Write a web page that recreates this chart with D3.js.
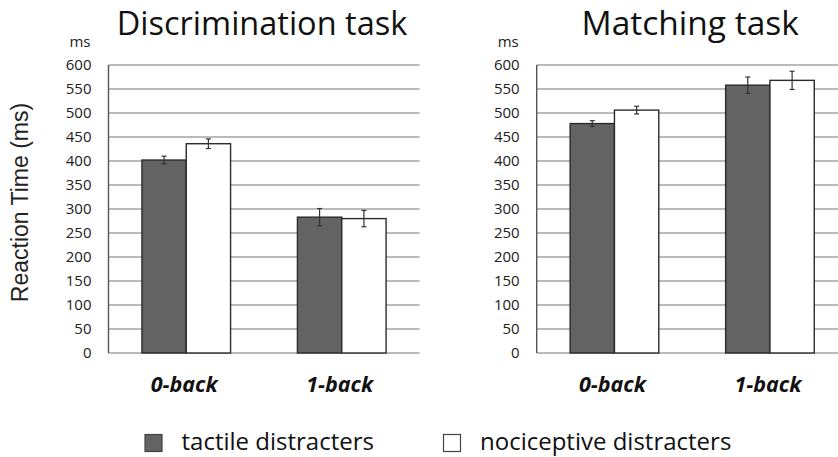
<!DOCTYPE html>
<html>
<head>
<meta charset="utf-8">
<script src="https://cdn.jsdelivr.net/npm/d3@7"></script>
<style>
  body { margin: 0; background: #fff; }
  svg { display: block; }
</style>
</head>
<body>
<div id="chart"></div>
<script>
const categories = ["0-back", "1-back"]
const seriesNames = ["tactile distracters", "nociceptive distracters"]
const seriesColors = ["#636363", "#ffffff"]

// mean reaction times (ms), per category
const discrimTactile = [402, 283]
const discrimNocicep = [436, 280]
const matchTactile = [478, 558]
const matchNocicep = [506, 568]

// error bars (+/- ms)
const discrimTactileErr = [8, 18]
const discrimNocicepErr = [10, 17]
const matchTactileErr = [6, 17]
const matchNocicepErr = [8, 19]

const yTicks = [0, 50, 100, 150, 200, 250, 300, 350, 400, 450, 500, 550, 600]

const panels = [
  {title: "Discrimination task", left: 108.5, titleSize: 32.5,
   values: [discrimTactile, discrimNocicep], errs: [discrimTactileErr, discrimNocicepErr]},
  {title: "Matching task", left: 536.7, titleSize: 33.5,
   values: [matchTactile, matchNocicep], errs: [matchTactileErr, matchNocicepErr]}
]

const W = 838, H = 457
const plotTop = 65, plotBottom = 353, plotW = 311

const svg = d3.select("#chart").append("svg")
  .attr("width", W)
  .attr("height", H)

const y = d3.scaleLinear().domain([0, 600]).range([plotBottom, plotTop])

svg.append("text")
  .attr("transform", `translate(28,202.5) rotate(-90)`)
  .attr("text-anchor", "middle")
  .style("font-family", "Liberation Sans, Arial, sans-serif")
  .style("font-size", "23px")
  .style("fill", "#222")
  .text("Reaction Time (ms)")

panels.forEach(p => {
  const g = svg.append("g").attr("transform", `translate(${p.left},0)`)

  const x0 = d3.scaleBand().domain(categories).range([0, plotW])
    .paddingInner(0.43).paddingOuter(0.215)
  const x1 = d3.scaleBand().domain(seriesNames).range([0, x0.bandwidth()])

  // gridlines
  g.append("g")
    .selectAll("line")
    .data(yTicks)
    .join("line")
      .attr("x1", 0)
      .attr("x2", plotW)
      .attr("y1", d => y(d))
      .attr("y2", d => y(d))
      .attr("stroke", "#a3a3a3")
      .attr("stroke-width", 1.4)

  // y axis labels
  const yAxis = g.append("g")
    .call(d3.axisLeft(y).tickValues(yTicks).tickSize(0).tickPadding(17))
  yAxis.select(".domain").remove()
  yAxis.selectAll("text")
    .style("font-family", "Open Sans, sans-serif")
    .style("font-size", "15px")
    .style("fill", "#222")

  g.append("text")
    .attr("x", -18)
    .attr("y", 47)
    .attr("text-anchor", "end")
    .style("font-family", "Open Sans, sans-serif")
    .style("font-size", "15px")
    .style("fill", "#222")
    .text("ms")

  // bars
  const rows = []
  categories.forEach((c, ci) => {
    seriesNames.forEach((s, si) => {
      rows.push({cat: c, ser: s, si: si, v: p.values[si][ci], e: p.errs[si][ci]})
    })
  })

  g.append("g")
    .selectAll("rect")
    .data(rows)
    .join("rect")
      .attr("x", d => x0(d.cat) + x1(d.ser))
      .attr("y", d => y(d.v))
      .attr("width", x1.bandwidth())
      .attr("height", d => y(0) - y(d.v))
      .attr("fill", d => seriesColors[d.si])
      .attr("stroke", "#2b2b2b")
      .attr("stroke-width", 1.4)

  // error bars
  const eb = g.append("g").attr("stroke", "#333").attr("stroke-width", 1.2)
  rows.forEach(d => {
    const cx = x0(d.cat) + x1(d.ser) + x1.bandwidth() / 2
    eb.append("line").attr("x1", cx).attr("x2", cx).attr("y1", y(d.v + d.e)).attr("y2", y(d.v - d.e))
    eb.append("line").attr("x1", cx - 2.5).attr("x2", cx + 2.5).attr("y1", y(d.v + d.e)).attr("y2", y(d.v + d.e))
    eb.append("line").attr("x1", cx - 2.5).attr("x2", cx + 2.5).attr("y1", y(d.v - d.e)).attr("y2", y(d.v - d.e))
  })

  // y axis line
  g.append("line")
    .attr("x1", 0).attr("x2", 0)
    .attr("y1", y(600)).attr("y2", y(0))
    .attr("stroke", "#555")
    .attr("stroke-width", 1.4)

  // category labels
  g.append("g")
    .selectAll("text")
    .data(categories)
    .join("text")
      .attr("x", d => x0(d) + x0.bandwidth() / 2 - 2)
      .attr("y", 392)
      .attr("text-anchor", "middle")
      .style("font-family", "Open Sans, sans-serif")
      .style("font-size", "21.5px")
      .style("font-weight", "bold")
      .style("font-style", "italic")
      .style("fill", "#111")
      .text(d => d)

  // title
  g.append("text")
    .attr("x", plotW / 2 - 2)
    .attr("y", 35)
    .attr("text-anchor", "middle")
    .style("font-family", "Open Sans, sans-serif")
    .style("font-size", p.titleSize + "px")
    .style("fill", "#111")
    .text(p.title)
})

// legend
const legendX = [145, 443.5]
const leg = svg.append("g")
seriesNames.forEach((s, i) => {
  leg.append("rect")
    .attr("x", legendX[i])
    .attr("y", 434.5)
    .attr("width", 17)
    .attr("height", 17)
    .attr("fill", seriesColors[i])
    .attr("stroke", "#444")
    .attr("stroke-width", 1.2)
  leg.append("text")
    .attr("x", legendX[i] + 36.5)
    .attr("y", 450)
    .style("font-family", "Open Sans, sans-serif")
    .style("font-size", "24px")
    .style("fill", "#111")
    .text(s)
})
</script>
</body>
</html>
